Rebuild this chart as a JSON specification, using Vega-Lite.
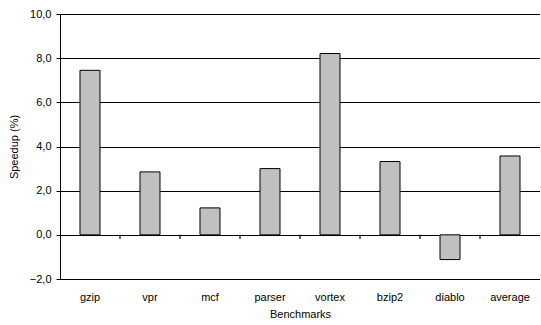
{
  "$schema": "https://vega.github.io/schema/vega-lite/v6.json",
  "width": 480,
  "height": 265,
  "padding": {"left": 8, "top": 8, "right": 0, "bottom": 4},
  "autosize": {"type": "pad"},
  "config": {
    "view": {"stroke": null},
    "font": "Liberation Sans",
    "axis": {"labelFont": "Liberation Sans", "titleFont": "Liberation Sans", "labelColor": "black", "titleColor": "black", "titleFontWeight": "normal", "labelFontSize": 11, "titleFontSize": 11}
  },
  "data": {
    "values": [
      {"benchmark": "gzip", "speedup": 7.45},
      {"benchmark": "vpr", "speedup": 2.85},
      {"benchmark": "mcf", "speedup": 1.22},
      {"benchmark": "parser", "speedup": 3.0},
      {"benchmark": "vortex", "speedup": 8.21},
      {"benchmark": "bzip2", "speedup": 3.32},
      {"benchmark": "diablo", "speedup": -1.12},
      {"benchmark": "average", "speedup": 3.57}
    ]
  },
  "layer": [
    {
      "mark": {"type": "bar", "fill": "#c0c0c0", "stroke": "black", "strokeWidth": 1},
      "encoding": {
        "x": {
          "field": "benchmark", "type": "nominal", "sort": null,
          "scale": {"paddingInner": 0.6667, "paddingOuter": 0.3333},
          "axis": {"title": "Benchmarks", "labelAngle": 0, "ticks": false, "domain": false, "labelPadding": 12, "titlePadding": 6}
        },
        "y": {
          "field": "speedup", "type": "quantitative",
          "scale": {"domain": [-2, 10], "nice": false},
          "axis": {
            "title": "Speedup (%)", "values": [-2, 0, 2, 4, 6, 8, 10],
            "labelExpr": "replace(format(datum.value, '.1f'), '.', ',')",
            "grid": true, "gridColor": "black", "gridOpacity": 1, "gridWidth": 1,
            "domainColor": "black", "tickColor": "black", "tickSize": 4, "labelPadding": 5, "titlePadding": 10
          }
        }
      }
    },
    {
      "transform": [{"filter": "datum.benchmark != 'gzip'"}],
      "mark": {"type": "rule", "color": "black", "strokeWidth": 1.2},
      "encoding": {
        "x": {"field": "benchmark", "type": "nominal", "sort": null, "bandPosition": -1},
        "y": {"datum": 0},
        "y2": {"datum": -0.19}
      }
    }
  ]
}
